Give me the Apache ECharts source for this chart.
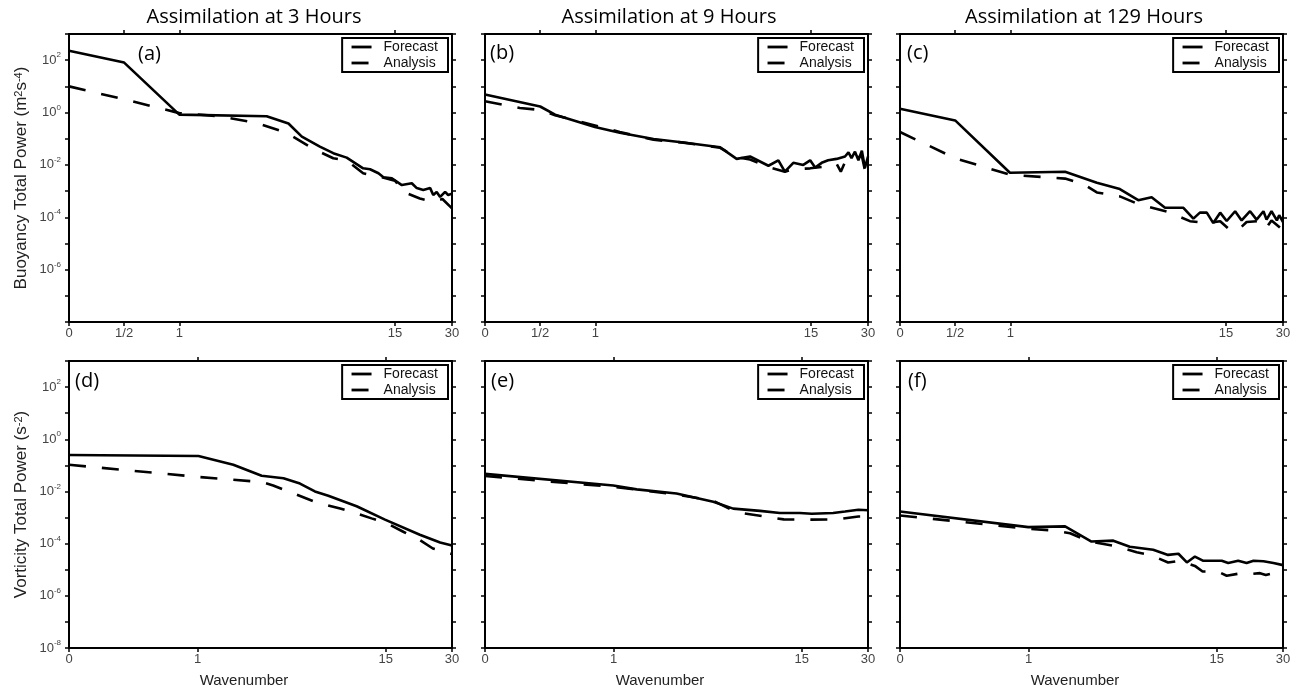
<!DOCTYPE html>
<html>
<head>
<meta charset="utf-8">
<script src="https://cdn.jsdelivr.net/npm/echarts@6/dist/echarts.min.js"></script>
<style>
  html, body { margin: 0; padding: 0; background: #fff; }
  #chart { width: 1300px; height: 692px; }
</style>
</head>
<body>
<div id="chart"></div>
<script>
// x values are positions along the stretched wavenumber axis (0 .. 1)
const topTickPos = [0, 0.144, 0.288, 0.851, 1];
const topTickLabels = ['0', '1/2', '1', '15', '30'];
const botTickPos = [0, 0.336, 0.827, 1];
const botTickLabels = ['0', '1', '15', '30'];

const columnTitles = ['Assimilation at 3 Hours', 'Assimilation at 9 Hours', 'Assimilation at 129 Hours'];
const panelLetters = ['(a)', '(b)', '(c)', '(d)', '(e)', '(f)'];

// (a) buoyancy, 3 h
const forecastA = [[0, 2.3e2], [0.144, 8.1e1], [0.288, 8.3e-1], [0.516, 7.2e-1], [0.573, 3.8e-1], [0.608, 1.2e-1],
  [0.655, 5.0e-2], [0.69, 2.8e-2], [0.725, 1.9e-2], [0.768, 7.4e-3], [0.786, 6.8e-3], [0.808, 4.8e-3],
  [0.821, 3.4e-3], [0.843, 3.1e-3], [0.869, 1.7e-3], [0.895, 2.0e-3], [0.908, 1.3e-3], [0.925, 1.1e-3],
  [0.943, 1.3e-3], [0.951, 7.1e-4], [0.960, 9.3e-4], [0.969, 6.0e-4], [0.982, 9.3e-4], [0.990, 7.1e-4], [1, 8.0e-4]];
const analysisA = [[0, 1.0e1], [0.144, 3.2], [0.288, 9.5e-1], [0.394, 7.2e-1], [0.49, 4.0e-1], [0.568, 1.7e-1],
  [0.642, 3.8e-2], [0.69, 1.8e-2], [0.725, 1.5e-2], [0.768, 4.8e-3], [0.812, 3.5e-3], [0.851, 2.5e-3],
  [0.877, 8.9e-4], [0.916, 5.2e-4], [0.951, 3.9e-4], [0.975, 5.0e-4], [1, 2.2e-4]];

// (b) buoyancy, 9 h
const forecastB = [[0, 4.9], [0.144, 1.7], [0.183, 8.3e-1], [0.287, 2.8e-1], [0.352, 1.7e-1], [0.44, 9.8e-2],
  [0.518, 7.2e-2], [0.614, 4.7e-2], [0.657, 1.7e-2], [0.692, 2.1e-2], [0.740, 9.3e-3], [0.766, 1.5e-2],
  [0.783, 5.5e-3], [0.805, 1.2e-2], [0.831, 1.0e-2], [0.849, 1.5e-2], [0.862, 7.9e-3], [0.879, 1.2e-2],
  [0.896, 1.5e-2], [0.918, 1.7e-2], [0.940, 2.1e-2], [0.949, 3.0e-2], [0.957, 1.8e-2], [0.966, 3.2e-2],
  [0.975, 1.5e-2], [0.984, 3.5e-2], [0.992, 7.6e-3], [1, 2.1e-2]];
const analysisB = [[0, 2.7], [0.091, 1.5], [0.144, 1.26], [0.183, 7.9e-1], [0.287, 3.2e-1], [0.352, 1.8e-1],
  [0.44, 9.1e-2], [0.518, 7.1e-2], [0.614, 4.5e-2], [0.657, 2.0e-2], [0.692, 1.6e-2], [0.740, 8.3e-3],
  [0.783, 5.5e-3], [0.805, 6.8e-3], [0.849, 7.4e-3], [0.879, 8.3e-3], [0.918, 1.1e-2], [0.929, 5.5e-3],
  [0.940, 1.3e-2], [0.966, 1.8e-2], [0.984, 2.2e-2], [0.992, 6.3e-3], [1, 1.3e-2]];

// (c) buoyancy, 129 h
const forecastC = [[0, 1.4], [0.144, 5.0e-1], [0.287, 5.0e-3], [0.431, 5.5e-3], [0.514, 2.1e-3], [0.574, 1.2e-3],
  [0.622, 4.5e-4], [0.657, 5.8e-4], [0.692, 2.3e-4], [0.740, 2.3e-4], [0.766, 8.9e-5], [0.783, 1.5e-4],
  [0.801, 1.5e-4], [0.818, 6.0e-5], [0.836, 1.5e-4], [0.853, 7.2e-5], [0.875, 1.7e-4], [0.892, 7.6e-5],
  [0.914, 1.7e-4], [0.931, 8.1e-5], [0.949, 1.7e-4], [0.957, 8.1e-5], [0.970, 1.7e-4], [0.984, 7.6e-5],
  [0.990, 1.2e-4], [1, 6.6e-5]];
const analysisC = [[0, 1.8e-1], [0.144, 1.8e-2], [0.287, 4.2e-3], [0.431, 3.0e-3], [0.48, 1.8e-3], [0.514, 8.9e-4],
  [0.574, 6.3e-4], [0.622, 3.2e-4], [0.70, 1.6e-4], [0.757, 7.1e-5], [0.80, 6.0e-5], [0.836, 7.1e-5],
  [0.862, 3.2e-5], [0.885, 3.5e-5], [0.905, 6.6e-5], [0.936, 7.1e-5], [0.955, 3.7e-5], [0.97, 7.6e-5], [1, 3.2e-5]];

// (d) vorticity, 3 h
const forecastD = [[0, 2.5e-1], [0.338, 2.3e-1], [0.429, 1.05e-1], [0.503, 4.0e-2], [0.560, 3.2e-2], [0.603, 2.0e-2],
  [0.642, 1.0e-2], [0.677, 6.8e-3], [0.751, 2.7e-3], [0.825, 8.3e-4], [0.916, 2.2e-4], [0.969, 1.1e-4], [1, 8.5e-5]];
const analysisD = [[0, 1.05e-1], [0.338, 3.6e-2], [0.503, 2.3e-2], [0.533, 1.7e-2], [0.642, 4.0e-3], [0.708, 2.2e-3],
  [0.742, 1.6e-3], [0.79, 9.3e-4], [0.83, 6.0e-4], [0.874, 2.8e-4], [0.909, 1.6e-4], [0.95, 6.5e-5], [1, 4.0e-5]];

// (e) vorticity, 9 h
const forecastE = [[0, 4.7e-2], [0.335, 1.7e-2], [0.396, 1.2e-2], [0.50, 8.3e-3], [0.596, 4.0e-3], [0.648, 2.2e-3],
  [0.718, 1.8e-3], [0.770, 1.5e-3], [0.822, 1.5e-3], [0.853, 1.4e-3], [0.909, 1.5e-3], [0.940, 1.7e-3],
  [0.975, 2.0e-3], [1, 1.9e-3]];
const analysisE = [[0, 3.9e-2], [0.335, 1.5e-2], [0.50, 7.6e-3], [0.596, 4.4e-3], [0.657, 1.6e-3], [0.73, 1.1e-3],
  [0.78, 8.5e-4], [0.85, 8.3e-4], [0.92, 8.5e-4], [0.975, 1.1e-3], [1, 1.1e-3]];

// (f) vorticity, 129 h
const forecastF = [[0, 1.7e-3], [0.335, 4.3e-4], [0.431, 4.6e-4], [0.50, 1.2e-4], [0.557, 1.3e-4], [0.60, 7.6e-5],
  [0.661, 5.8e-5], [0.70, 3.7e-5], [0.727, 4.1e-5], [0.749, 1.9e-5], [0.770, 3.2e-5], [0.792, 2.2e-5],
  [0.840, 2.2e-5], [0.857, 1.8e-5], [0.883, 2.2e-5], [0.905, 1.8e-5], [0.923, 2.2e-5], [0.949, 2.1e-5],
  [0.975, 1.8e-5], [1, 1.5e-5]];
const analysisF = [[0, 1.2e-3], [0.335, 3.7e-4], [0.40, 3.2e-4], [0.444, 2.5e-4], [0.496, 1.2e-4], [0.566, 7.8e-5],
  [0.618, 4.7e-5], [0.653, 3.7e-5], [0.70, 1.9e-5], [0.73, 2.2e-5], [0.77, 1.4e-5], [0.79, 8.5e-6],
  [0.83, 8.5e-6], [0.853, 5.9e-6], [0.888, 7.2e-6], [0.915, 6.8e-6], [0.94, 7.4e-6], [0.955, 6.3e-6], [0.975, 7.4e-6]];

const panels = [
  [forecastA, analysisA], [forecastB, analysisB], [forecastC, analysisC],
  [forecastD, analysisD], [forecastE, analysisE], [forecastF, analysisF]
];

const colLeft = [69, 485, 900];
const colWidth = 383;
const rowTop = [34, 361];
const rowHeight = [288, 287];
const legendRight = [852, 436, 21];
const titleX = [254, 669, 1084];
const waveX = [244, 660, 1075];
const letterPos = [[138, 54], [490, 53], [907, 53], [75, 381], [491, 381], [908, 381]];

const labelFont = 'Liberation Sans';
const black = '#000';

const yNameRich = {
  a: { fontFamily: labelFont, fontSize: 17, color: '#222' },
  s: { fontFamily: labelFont, fontSize: 11, color: '#222', verticalAlign: 'top', lineHeight: 10 }
};
const yNames = [
  '{a|Buoyancy Total Power (m}{s|2}{a|s}{s|-4}{a|)}',
  '{a|Vorticity Total Power (s}{s|-2}{a|)}'
];

const grid = [], xAxis = [], yAxis = [], series = [], legend = [];

panels.forEach(([fc, an], i) => {
  const r = Math.floor(i / 3), c = i % 3;
  const tickPos = r === 0 ? topTickPos : botTickPos;
  const tickLab = r === 0 ? topTickLabels : botTickLabels;
  const frame = { onZero: false, lineStyle: { color: black, width: 2 } };
  const tick = { length: 4, lineStyle: { color: black, width: 1.5 } };

  grid.push({ left: colLeft[c], top: rowTop[r], width: colWidth, height: rowHeight[r] });

  xAxis.push({
    gridIndex: i, type: 'value', min: 0, max: 1, position: 'bottom',
    axisLine: frame, splitLine: { show: false },
    axisTick: Object.assign({ customValues: tickPos }, tick),
    axisLabel: {
      customValues: tickPos, margin: 5, color: '#444', fontFamily: labelFont, fontSize: 13,
      formatter: v => {
        let k = 0;
        tickPos.forEach((p, j) => { if (Math.abs(p - v) < Math.abs(tickPos[k] - v)) k = j; });
        return tickLab[k];
      }
    }
  });
  xAxis.push({
    gridIndex: i, type: 'value', min: 0, max: 1, position: 'top',
    axisLine: frame, splitLine: { show: false },
    axisTick: Object.assign({ customValues: tickPos.slice(1, -1) }, tick),
    axisLabel: { show: false }
  });

  // log axis carries the data
  yAxis.push({
    gridIndex: i, type: 'log', logBase: 10, min: 1e-8, max: 1e3, position: 'left',
    axisLine: frame, axisTick: { show: false }, axisLabel: { show: false }, splitLine: { show: false },
    name: c === 0 ? yNames[r] : '', nameLocation: 'middle', nameGap: 39,
    nameTextStyle: { rich: yNameRich }
  });
  // decade ticks and labels (exponent of ten)
  yAxis.push({
    gridIndex: i, type: 'value', min: -8, max: 3, interval: 1, position: 'left',
    axisLine: { show: false }, axisTick: tick, splitLine: { show: false },
    axisLabel: {
      show: c === 0, margin: 8,
      formatter: v => {
        const e = Math.round(v);
        if (e % 2 !== 0 || e > 2 || (r === 0 && e === -8)) return '';
        return '{b|10}{e|' + e + '}';
      },
      rich: {
        b: { fontFamily: labelFont, fontSize: 13, color: '#444', lineHeight: 18 },
        e: { fontFamily: labelFont, fontSize: 8, color: '#444', verticalAlign: 'top', lineHeight: 8 }
      }
    }
  });
  yAxis.push({
    gridIndex: i, type: 'value', min: -8, max: 3, interval: 1, position: 'right',
    axisLine: frame, axisTick: tick, axisLabel: { show: false }, splitLine: { show: false }
  });

  series.push({
    name: 'Forecast', type: 'line', xAxisIndex: 2 * i, yAxisIndex: 3 * i, data: fc,
    symbol: 'none', lineStyle: { color: black, width: 2.6 }, itemStyle: { color: black }
  });
  series.push({
    name: 'Analysis', type: 'line', xAxisIndex: 2 * i, yAxisIndex: 3 * i, data: an,
    symbol: 'none', lineStyle: { color: black, width: 2.6, type: [17, 16] }, itemStyle: { color: black }
  });

  legend.push({
    data: ['Forecast', 'Analysis'], orient: 'vertical', right: legendRight[c], top: rowTop[r] + 4,
    padding: [2, 10, 2, 8], itemWidth: 20, itemHeight: 14, itemGap: 2,
    borderColor: black, borderWidth: 2, selectedMode: false,
    itemStyle: { opacity: 0 },
    lineStyle: { width: 2.8, color: black },
    textStyle: { fontFamily: labelFont, fontSize: 14, color: '#111', padding: [0, 0, 0, 7] }
  });
});

const graphic = [];
columnTitles.forEach((t, c) => {
  graphic.push({
    type: 'text', x: titleX[c], y: 17,
    style: { text: t, align: 'center', verticalAlign: 'middle', fontFamily: 'Open Sans', fontSize: 20, fill: black }
  });
  graphic.push({
    type: 'text', x: waveX[c], y: 681,
    style: { text: 'Wavenumber', align: 'center', verticalAlign: 'middle', fontFamily: labelFont, fontSize: 15, fill: '#222' }
  });
});
panelLetters.forEach((t, i) => {
  graphic.push({
    type: 'text', x: letterPos[i][0], y: letterPos[i][1],
    style: { text: t, align: 'left', verticalAlign: 'middle', fontFamily: 'Open Sans', fontSize: 20, fill: black }
  });
});

const chart = echarts.init(document.getElementById('chart'));
chart.setOption({
  animation: false,
  backgroundColor: '#fff',
  grid, xAxis, yAxis, series, legend, graphic
});
</script>
</body>
</html>
